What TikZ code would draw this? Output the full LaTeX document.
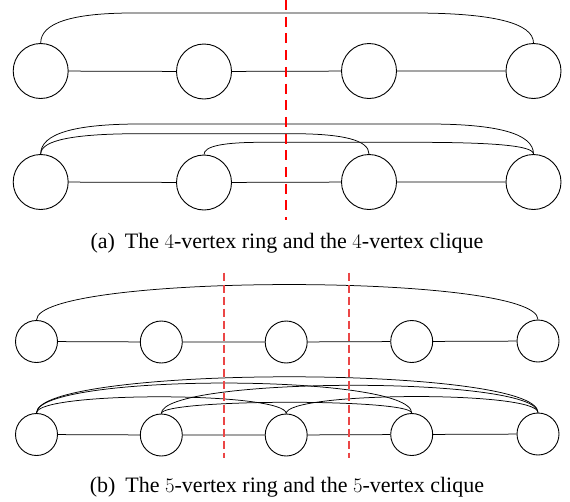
\documentclass[tikz,border=0pt]{standalone}
\usepackage[no-math]{fontspec}
\setmainfont{Liberation Serif}
\begin{document}
\begin{tikzpicture}[x=1pt,y=-1pt,
  bigv/.style={circle,draw,line width=0.9pt,minimum size=55pt,inner sep=0pt},
  smallv/.style={circle,draw,line width=0.9pt,minimum size=42pt,inner sep=0pt},
  edge/.style={line width=0.75pt},
  cutA/.style={draw=red,line width=1.3pt,dash pattern=on 10pt off 6.7pt},
  cutB/.style={draw={rgb,255:red,235;green,70;blue,70},line width=1.1pt,dash pattern=on 8.5pt off 3.5pt},
  captext/.style={font=\fontsize{22}{26}\selectfont,anchor=base,inner sep=0pt}]
\useasboundingbox (0,0) rectangle (570,501);
% ---------- (a) ring ----------
\node[bigv] (r1) at (40.7,71) {};
\node[bigv] (r2) at (204,71.5) {};
\node[bigv] (r3) at (369,71) {};
\node[bigv] (r4) at (533.5,71) {};
\draw[edge] (r1) -- (r2) (r2) -- (r3) (r3) -- (r4);
\draw[edge] (r1.north) .. controls +(0,-20) and +(-61.5,0) .. (133,13) -- (413,13)
  .. controls +(80.3,0) and +(0,-20) .. (r4.north);
% ---------- (a) clique ----------
\node[bigv] (c1) at (40.7,182) {};
\node[bigv] (c2) at (204,182.5) {};
\node[bigv] (c3) at (369,182) {};
\node[bigv] (c4) at (533.5,182) {};
\draw[edge] (c1) -- (c2) (c2) -- (c3) (c3) -- (c4);
\draw[edge] (c1.north) .. controls +(0,-20.3) and +(-66.2,0) .. (140,124) -- (428,124)
  .. controls +(70.3,0) and +(0,-20.3) .. (c4.north);
\draw[edge] (c1.north) .. controls +(0,-13.9) and +(-66.2,0) .. (140,133.7) -- (292,133.7)
  .. controls +(51.3,0) and +(0,-13.9) .. (c3.north);
\draw[edge] (c2.north) .. controls +(0,-8.5) and +(-38.7,0) .. (262,142.3) -- (413,142.3)
  .. controls +(80.3,0) and +(0,-8.5) .. (c4.north);
\coordinate (ta) at (286,0);
\coordinate (ba) at (286,220);
\draw[cutA] (ta) -- (ba);
\node[captext] (capa) at (287,248) {(a)\hspace{0.45em}The $4$-vertex ring and the $4$-vertex clique};
% ---------- (b) ring ----------
\node[smallv] (R1) at (36.5,341.5) {};
\node[smallv] (R2) at (161.3,342) {};
\node[smallv] (R3) at (286.2,342) {};
\node[smallv] (R4) at (411.7,341.5) {};
\node[smallv] (R5) at (538,341) {};
\draw[edge] (R1) -- (R2) (R2) -- (R3) (R3) -- (R4) (R4) -- (R5);
\draw[edge] (R1.north) .. controls +(0,-47) and +(0,-47) .. (R5.north);
% ---------- (b) clique ----------
\node[smallv] (C1) at (36.5,434.5) {};
\node[smallv] (C2) at (161.3,435) {};
\node[smallv] (C3) at (286.2,435) {};
\node[smallv] (C4) at (411.7,434.5) {};
\node[smallv] (C5) at (538,434) {};
\draw[edge] (C1) -- (C2) (C2) -- (C3) (C3) -- (C4) (C4) -- (C5);
\draw[edge] (C1.north) .. controls +(0,-48) and +(0,-48) .. (C5.north);
\draw[edge] (C1.north) .. controls +(0,-40) and +(0,-40) .. (C4.north);
\draw[edge] (C2.north) .. controls +(0,-37) and +(0,-37) .. (C5.north);
\draw[edge] (C1.north) .. controls +(0,-22) and +(0,-22) .. (C3.north);
\draw[edge] (C3.north) .. controls +(0,-22) and +(0,-22) .. (C5.north);
\draw[edge] (C2.north) .. controls +(0,-14.7) and +(0,-14.7) .. (C4.north);
\coordinate (tb1) at (224,272.7);
\coordinate (bb1) at (224,458.3);
\coordinate (tb2) at (349,272.7);
\coordinate (bb2) at (349,458.3);
\draw[cutB] (tb1) -- (bb1);
\draw[cutB] (tb2) -- (bb2);
\node[captext] (capb) at (287,492) {(b)\hspace{0.45em}The $5$-vertex ring and the $5$-vertex clique};
\end{tikzpicture}
\end{document}
